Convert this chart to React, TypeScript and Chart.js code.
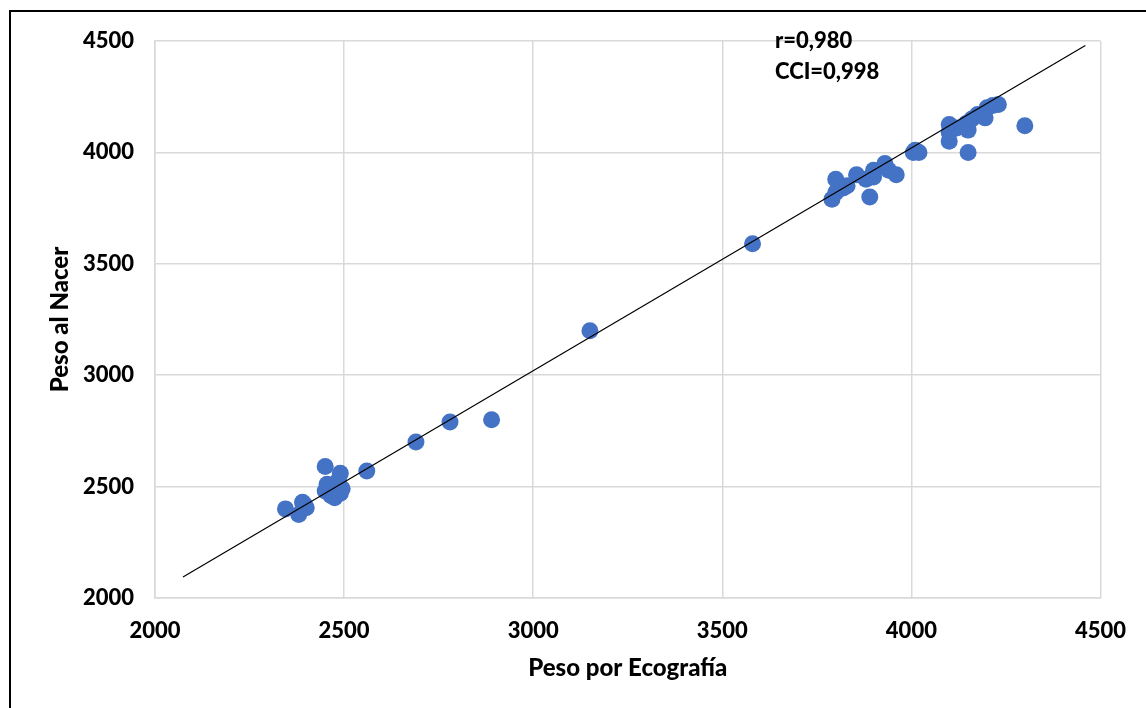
import React, { useEffect, useRef } from "react";
import { Chart, registerables } from "chart.js";

Chart.register(...registerables);

// Peso por Ecografía (x) vs Peso al Nacer (y)
const pesoEcografia = [
  2345, 2380, 2390, 2400, 2395, 2450, 2455, 2450, 2465, 2475, 2480, 2490, 2490, 2495, 2485, 2560,
  2690, 2780, 2890, 3150, 3580,
  3790, 3800, 3800, 3820, 3830, 3855, 3880, 3890, 3900, 3900, 3930, 3940, 3960,
  4005, 4010, 4020, 4100, 4100, 4100, 4120, 4145, 4150, 4150, 4160, 4175, 4195, 4200, 4215, 4230, 4300,
];
const pesoNacer = [
  2400, 2375, 2430, 2405, 2420, 2590, 2510, 2480, 2460, 2450, 2490, 2560, 2470, 2490, 2530, 2570,
  2700, 2790, 2800, 3200, 3590,
  3790, 3880, 3820, 3840, 3850, 3900, 3880, 3800, 3920, 3890, 3950, 3920, 3900,
  4000, 4010, 4000, 4050, 4125, 4090, 4110, 4130, 4100, 4000, 4150, 4170, 4155, 4200, 4210, 4215, 4120,
];
// Linear trend line endpoints
const trendX = [2074, 4460];
const trendY = [2094, 4480];

const xTicks = [2000, 2500, 3000, 3500, 4000, 4500];
const yTicks = [2000, 2500, 3000, 3500, 4000, 4500];
const annotationLines = ["r=0,980", "CCI=0,998"];

const FONT = "Lato, 'Open Sans', sans-serif";

export default function App() {
  const ref = useRef<HTMLCanvasElement | null>(null);

  useEffect(() => {
    if (!ref.current) return;
    const chart = new Chart(ref.current, {
      type: "scatter",
      data: {
        datasets: [
          {
            type: "line",
            data: trendX.map((x, i) => ({ x, y: trendY[i] })),
            borderColor: "#000000",
            borderWidth: 1.2,
            pointRadius: 0,
            fill: false,
            order: 0,
          } as any,
          {
            data: pesoEcografia.map((x, i) => ({ x, y: pesoNacer[i] })),
            backgroundColor: "#4472C4",
            borderWidth: 0,
            pointRadius: 8.5,
            order: 1,
          },
        ],
      },
      options: {
        responsive: false,
        animation: false,
        devicePixelRatio: 1,
        layout: { padding: { left: 46, top: 41, right: 41, bottom: 25 } },
        plugins: { legend: { display: false }, tooltip: { enabled: false } },
        scales: {
          x: {
            type: "linear",
            min: 2000,
            max: 4500,
            afterBuildTicks: (s: any) => {
              s.ticks = xTicks.map((v) => ({ value: v }));
            },
            afterFit: (s: any) => {
              s.height = 85;
            },
            ticks: {
              padding: 20,
              color: "#000",
              callback: (v: any) => String(v),
              font: { family: FONT, size: 22, weight: "900" },
            },
            grid: { color: "#d9d9d9", lineWidth: 1.5, drawTicks: false },
            border: { display: true, color: "#d9d9d9", width: 1.5 },
            title: {
              display: true,
              text: "Peso por Ecografía",
              color: "#000",
              font: { family: FONT, size: 24, weight: "900" },
              padding: 0,
            },
          },
          y: {
            type: "linear",
            min: 2000,
            max: 4500,
            afterBuildTicks: (s: any) => {
              s.ticks = yTicks.map((v) => ({ value: v }));
            },
            afterFit: (s: any) => {
              s.width = 109;
            },
            ticks: {
              padding: 21,
              color: "#000",
              callback: (v: any) => String(v),
              font: { family: FONT, size: 22, weight: "900" },
            },
            grid: { color: "#d9d9d9", lineWidth: 1.5, drawTicks: false },
            border: { display: true, color: "#d9d9d9", width: 1.5 },
            title: {
              display: true,
              text: "Peso al Nacer",
              color: "#000",
              font: { family: FONT, size: 24, weight: "900" },
              padding: 0,
            },
          },
        },
      },
    });
    return () => chart.destroy();
  }, []);

  return (
    <div
      style={{
        position: "absolute",
        left: 0,
        top: 0,
        width: 1146,
        height: 708,
        overflow: "hidden",
        background: "#fff",
      }}
    >
      <div
        style={{
          position: "absolute",
          left: 9,
          top: 10,
          width: 1200,
          height: 800,
          border: "2px solid #000",
          boxSizing: "border-box",
        }}
      />
      <canvas ref={ref} width={1146} height={708} style={{ position: "absolute", left: 0, top: 0 }} />
      <div
        style={{
          position: "absolute",
          left: 775,
          top: 24,
          fontFamily: FONT,
          fontWeight: 900,
          fontSize: 22,
          lineHeight: "31px",
          color: "#000",
        }}
      >
        {annotationLines.map((t) => (
          <div key={t}>{t}</div>
        ))}
      </div>
    </div>
  );
}
